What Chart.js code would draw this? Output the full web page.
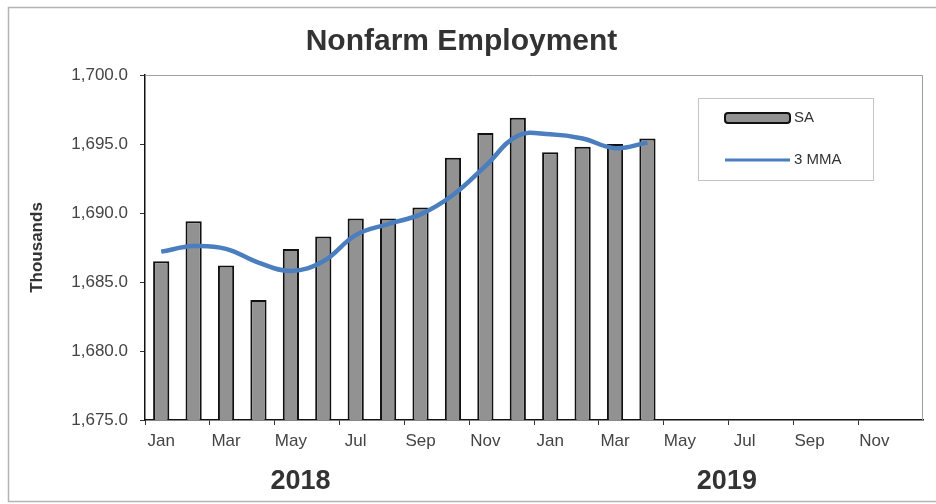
<!DOCTYPE html>
<html>
<head>
<meta charset="utf-8">
<script src="https://cdn.jsdelivr.net/npm/chart.js@4.4.1/dist/chart.umd.min.js"></script>
<style>
  html, body { margin: 0; padding: 0; background: #fff; }
  #wrap { width: 936px; height: 504px; }
</style>
</head>
<body>
<div id="wrap"><canvas id="chart"></canvas></div>
<script>
// Data.
const monthLabels = [
  'Jan', 'Feb', 'Mar', 'Apr', 'May', 'Jun', 'Jul', 'Aug', 'Sep', 'Oct', 'Nov', 'Dec',
  'Jan', 'Feb', 'Mar', 'Apr', 'May', 'Jun', 'Jul', 'Aug', 'Sep', 'Oct', 'Nov', 'Dec'
];
const yearLabels = ['2018', '2019'];
const saValues = [1686.5, 1689.4, 1686.2, 1683.7, 1687.4, 1688.3, 1689.6, 1689.6,
  1690.4, 1694.0, 1695.8, 1696.9, 1694.4, 1694.8, 1695.0, 1695.4];
const mmaValues = [1687.2, 1687.6, 1687.4, 1686.4, 1685.8, 1686.5, 1688.4, 1689.2,
  1689.9, 1691.3, 1693.4, 1695.6, 1695.7, 1695.4, 1694.7, 1695.1];
const yTicks = {min: 1675, max: 1700, step: 5};

const FONT = 'Arial, "Liberation Sans", sans-serif';
const BAR_GRAY = '#929292';
const LINE_BLUE = '#4a7ebf';

const fmt = (v) => v.toLocaleString('en-US', {minimumFractionDigits: 1, maximumFractionDigits: 1});

// Frame, plot border, year captions and legend box.
const decorations = {
  id: 'decorations',
  beforeDraw(chart) {
    const c = chart.ctx;
    c.save();
    c.fillStyle = '#fff';
    c.fillRect(0, 0, chart.width, chart.height);
    c.strokeStyle = '#b4b4b4';
    c.lineWidth = 1.5;
    c.strokeRect(8.5, 7.5, chart.width, chart.height - 10);
    c.restore();
  },
  beforeDatasetsDraw(chart) {
    const {ctx: c, chartArea: a} = chart;
    c.save();
    c.strokeStyle = '#a0a0a0';
    c.lineWidth = 1;
    c.beginPath();
    c.moveTo(a.left, a.top + 0.5);
    c.lineTo(a.right - 0.5, a.top + 0.5);
    c.lineTo(a.right - 0.5, a.bottom);
    c.stroke();
    c.restore();
  },
  afterDraw(chart) {
    const {ctx: c, chartArea: a, scales} = chart;
    c.save();
    // year captions under the month labels
    c.font = 'bold 27px ' + FONT;
    c.fillStyle = '#333';
    c.textAlign = 'center';
    c.textBaseline = 'middle';
    c.fillText(yearLabels[0], scales.x.getPixelForValue(4.3), 482);
    c.fillText(yearLabels[1], scales.x.getPixelForValue(17.45), 482);

    // legend
    const lx = a.right - 225;
    const ly = a.top + 23;
    c.strokeStyle = '#c4c4c4';
    c.lineWidth = 1;
    c.strokeRect(lx + 0.5, ly + 0.5, 175, 82);
    c.fillStyle = BAR_GRAY;
    c.strokeStyle = '#111';
    c.lineWidth = 2;
    c.beginPath();
    c.roundRect(lx + 27, ly + 15, 65, 10, 3);
    c.fill();
    c.stroke();
    c.strokeStyle = LINE_BLUE;
    c.lineWidth = 3;
    c.beginPath();
    c.moveTo(lx + 27, ly + 62);
    c.lineTo(lx + 92, ly + 62);
    c.stroke();
    c.font = '15px ' + FONT;
    c.fillStyle = '#333';
    c.textAlign = 'left';
    c.fillText(chart.data.datasets[1].label, lx + 96, ly + 20);
    c.fillText(chart.data.datasets[0].label, lx + 96, ly + 62);
    c.restore();
  }
};

new Chart(document.getElementById('chart'), {
  type: 'bar',
  data: {
    labels: monthLabels,
    datasets: [
      {
        type: 'line',
        label: '3 MMA',
        data: mmaValues,
        borderColor: LINE_BLUE,
        borderWidth: 4.5,
        pointRadius: 0,
        tension: 0.4,
        fill: false,
        order: 0,
      },
      {
        type: 'bar',
        label: 'SA',
        data: saValues,
        backgroundColor: BAR_GRAY,
        borderColor: '#111',
        borderWidth: 2,
        categoryPercentage: 1,
        barPercentage: 0.5,
        order: 1,
      },
    ],
  },
  options: {
    responsive: true,
    maintainAspectRatio: false,
    animation: false,
    layout: {padding: {left: 0, right: 13, top: 0, bottom: 0}},
    plugins: {
      legend: {display: false},
      tooltip: {enabled: false},
      title: {
        display: true,
        text: 'Nonfarm Employment',
        color: '#333',
        font: {family: FONT, size: 30, weight: 'bold'},
        padding: {top: 24, bottom: 15},
      },
    },
    scales: {
      x: {
        offset: true,
        afterFit: (s) => { s.height = 84; },
        border: {display: true, color: '#111', width: 1.5},
        grid: {
          offset: true,
          drawOnChartArea: false,
          tickLength: 5,
          color: (ctx) => (ctx.index % 2 === 0 ? '#333' : 'rgba(0,0,0,0)'),
        },
        ticks: {
          autoSkip: false,
          maxRotation: 0,
          padding: 6,
          color: '#444',
          font: {family: FONT, size: 17},
          callback: (v, i) => (i % 2 === 0 ? monthLabels[i] : ''),
        },
      },
      y: {
        min: yTicks.min,
        max: yTicks.max,
        afterFit: (s) => { s.width = 145; },
        border: {display: true, color: '#111', width: 1.5},
        grid: {drawOnChartArea: false, tickLength: 5, color: '#333'},
        ticks: {
          stepSize: yTicks.step,
          padding: 12,
          color: '#444',
          font: {family: FONT, size: 17},
          callback: (v) => fmt(v),
        },
        title: {
          display: true,
          text: 'Thousands',
          color: '#333',
          font: {family: FONT, size: 17, weight: 'bold'},
          padding: {top: 27, bottom: 0},
        },
      },
    },
  },
  plugins: [decorations],
});
</script>
</body>
</html>
